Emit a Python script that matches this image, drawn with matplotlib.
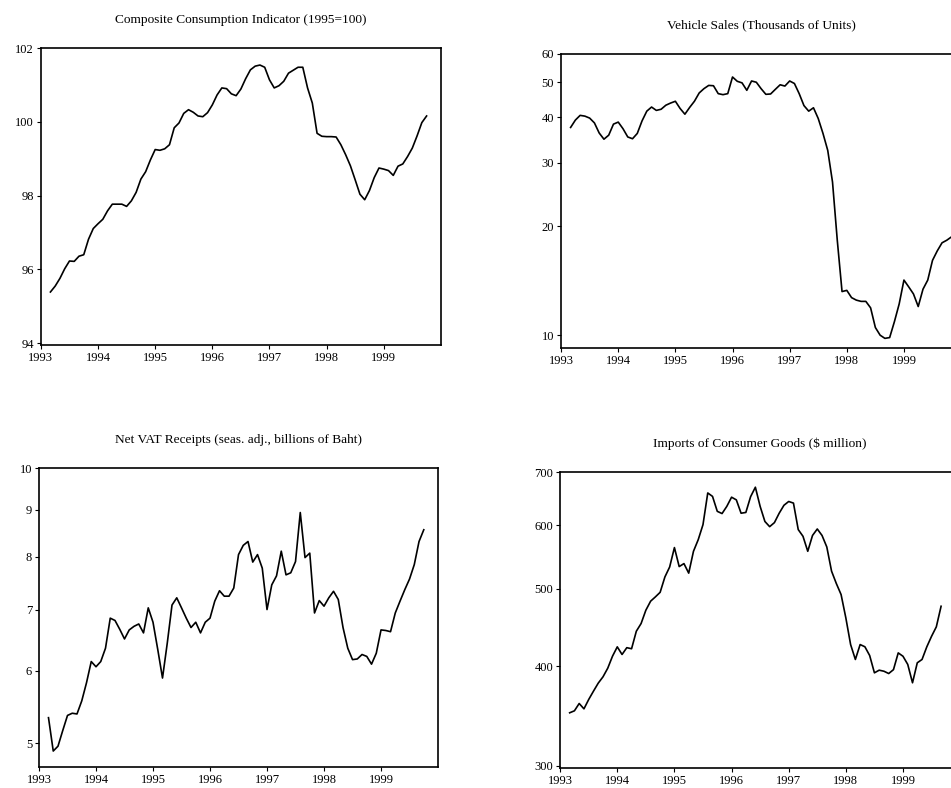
import numpy as np
import matplotlib.pyplot as plt
from matplotlib.ticker import FixedLocator, FixedFormatter, NullLocator

plt.rcParams['font.family'] = ['Liberation Serif', 'DejaVu Serif']

# monthly data, starting March 1993
start = 1993 + 2 / 12.0

cci = [95.39, 95.55, 95.76, 96.02, 96.23, 96.22, 96.36, 96.40, 96.82, 97.11,
       97.24, 97.36, 97.59, 97.77, 97.77, 97.77, 97.71, 97.86, 98.09, 98.45,
       98.65, 98.97, 99.25, 99.23, 99.27, 99.38, 99.84, 99.97, 100.23, 100.33,
       100.26, 100.16, 100.14, 100.25, 100.46, 100.73, 100.92, 100.90, 100.76, 100.71,
       100.89, 101.17, 101.41, 101.51, 101.54, 101.48, 101.14, 100.92, 100.98, 101.10,
       101.32, 101.40, 101.48, 101.48, 100.92, 100.51, 99.69, 99.61, 99.60, 99.60,
       99.59, 99.38, 99.11, 98.81, 98.43, 98.04, 97.89, 98.14, 98.49, 98.75,
       98.72, 98.68, 98.55, 98.80, 98.86, 99.06, 99.29, 99.62, 99.98, 100.16]

vehicles = [37.5, 39.3, 40.5, 40.3, 39.8, 38.6, 36.2, 34.8, 35.7, 38.3,
            38.8, 37.2, 35.3, 34.9, 36.1, 39.1, 41.6, 42.7, 41.8, 42.1,
            43.2, 43.8, 44.3, 42.3, 40.8, 42.6, 44.3, 46.7, 48.0, 49.0,
            48.9, 46.5, 46.2, 46.5, 51.7, 50.3, 49.8, 47.5, 50.4, 50.0,
            48.0, 46.3, 46.4, 47.8, 49.2, 48.8, 50.4, 49.6, 46.5, 43.1,
            41.6, 42.5, 39.7, 36.1, 32.4, 26.5, 18.3, 13.2, 13.3, 12.7,
            12.5, 12.4, 12.4, 11.9, 10.5, 10.0, 9.8, 9.85, 10.9, 12.2,
            14.2, 13.6, 13.0, 12.0, 13.4, 14.2, 16.1, 17.1, 18.0, 18.3, 18.7]

vat = [5.33, 4.90, 4.96, 5.16, 5.36, 5.39, 5.38, 5.56, 5.82, 6.14,
       6.06, 6.14, 6.35, 6.85, 6.81, 6.66, 6.50, 6.65, 6.71, 6.75,
       6.60, 7.03, 6.78, 6.33, 5.89, 6.43, 7.08, 7.21, 7.03, 6.85,
       6.69, 6.78, 6.60, 6.78, 6.85, 7.15, 7.34, 7.24, 7.24, 7.39,
       8.04, 8.23, 8.31, 7.89, 8.04, 7.77, 7.00, 7.45, 7.62, 8.11,
       7.64, 7.68, 7.90, 8.94, 7.98, 8.07, 6.94, 7.16, 7.06, 7.21,
       7.33, 7.18, 6.69, 6.35, 6.17, 6.18, 6.25, 6.22, 6.10, 6.27,
       6.65, 6.64, 6.62, 6.94, 7.15, 7.36, 7.56, 7.84, 8.31, 8.56]

imports = [349.7, 351.7, 359.2, 353.7, 363.4, 372.2, 380.9, 387.9, 397.7, 411.7,
           422.9, 413.7, 421.9, 420.6, 442.4, 452.3, 470.0, 482.4, 488.4, 494.9,
           517.3, 532.4, 563.0, 533.0, 537.6, 523.0, 557.0, 576.0, 601.5, 659.0,
           652.5, 625.0, 621.0, 634.0, 651.0, 646.0, 621.6, 623.0, 652.0, 670.0,
           634.0, 607.0, 598.0, 605.0, 621.6, 636.0, 643.0, 640.0, 593.0, 581.6,
           557.0, 583.0, 594.0, 583.0, 564.0, 526.0, 507.6, 491.7, 459.7, 425.7,
           407.8, 425.7, 423.0, 412.5, 392.4, 395.4, 394.2, 391.6, 396.0, 415.6,
           411.6, 402.0, 381.3, 403.9, 407.8, 422.9, 436.0, 448.0, 475.4]

years = [1993, 1994, 1995, 1996, 1997, 1998, 1999]

panels = [
    ("Composite Consumption Indicator (1995=100)", cci, False,
     [94, 96, 98, 100, 102], (93.95, 102), [0.043, 0.562, 0.4206, 0.377]),
    ("Vehicle Sales (Thousands of Units)", vehicles, True,
     [10, 20, 30, 40, 50, 60], (9.2, 60), [0.590, 0.558, 0.4206, 0.374]),
    ("Net VAT Receipts (seas. adj., billions of Baht)", vat, True,
     [5, 6, 7, 8, 9, 10], (4.71, 10), [0.041, 0.027, 0.4196, 0.379]),
    ("Imports of Consumer Goods ($ million)", imports, True,
     [300, 400, 500, 600, 700], (298, 700), [0.589, 0.025, 0.4206, 0.376]),
]

fig = plt.figure(figsize=(9.51, 7.88), dpi=100)

for title, vals, logy, yt, ylim, pos in panels:
    ax = fig.add_axes(pos)
    x = start + np.arange(len(vals)) / 12.0
    ax.plot(x, vals, color='black', lw=1.2)
    if logy:
        ax.set_yscale('log')
    ax.yaxis.set_major_locator(FixedLocator(yt))
    ax.yaxis.set_major_formatter(FixedFormatter([str(v) for v in yt]))
    ax.yaxis.set_minor_locator(NullLocator())
    ax.set_ylim(*ylim)
    ax.set_xlim(1993, 2000)
    ax.set_xticks(years)
    ax.set_xticklabels([str(y) for y in years])
    ax.tick_params(direction='out', length=3, width=0.8, labelsize=9, pad=2)
    for s in ax.spines.values():
        s.set_linewidth(1.2)
    ax.set_title(title, fontsize=9.6, pad=18)

fig.savefig("out.png", dpi=100)
